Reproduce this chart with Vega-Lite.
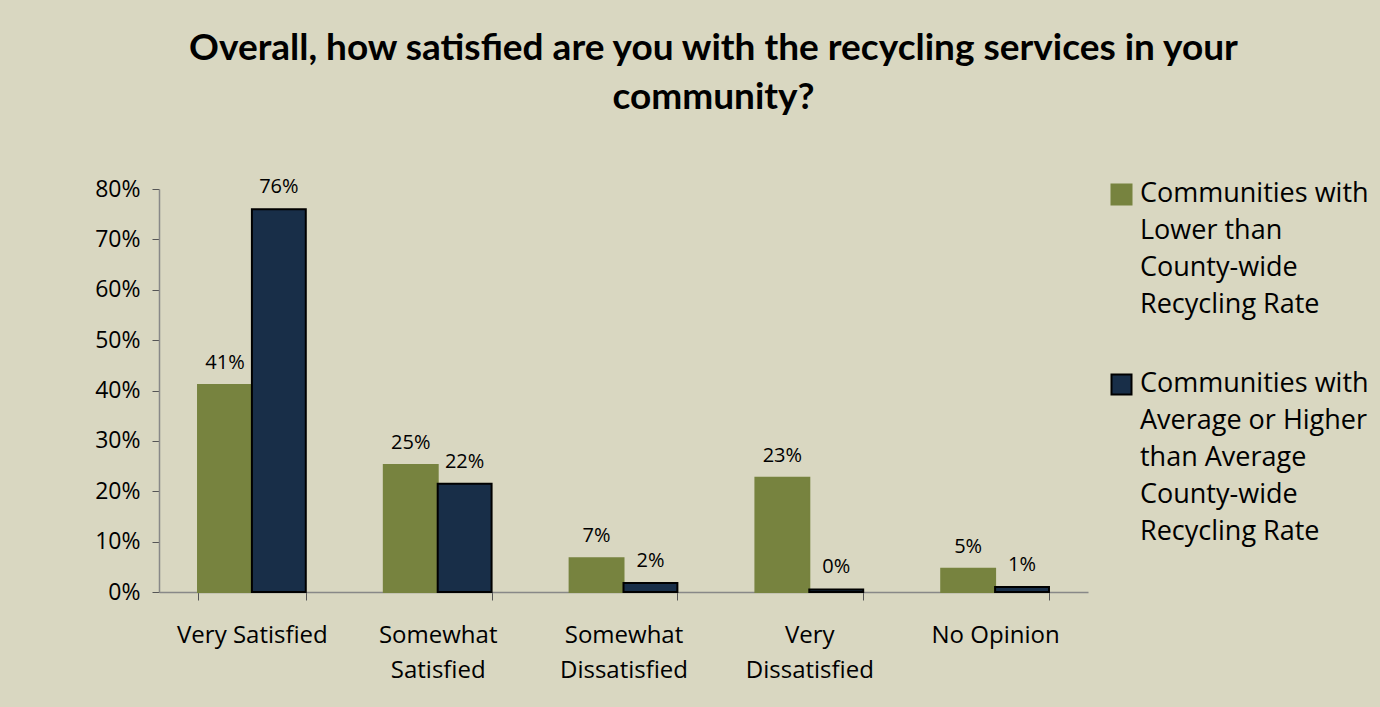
{
  "$schema": "https://vega.github.io/schema/vega-lite/v6.json",
  "width": 929,
  "height": 403,
  "autosize": {"type": "none"},
  "padding": {"left": 159, "top": 189, "right": 292, "bottom": 115},
  "background": "#D9D7C1",
  "title": {
    "text": ["Overall, how satisfied are you with the recycling services in your", "community?"],
    "fontSize": 37,
    "fontWeight": "bold",
    "font": "Lato",
    "color": "#000000",
    "lineHeight": 49,
    "anchor": "middle",
    "frame": "group",
    "dx": 90,
    "offset": 60
  },
  "config": {
    "view": {"stroke": null},
    "font": "Open Sans"
  },
  "data": {
    "values": [
      {"category": "Very Satisfied", "group": "Lower", "value": 41.1, "label": "41%"},
      {"category": "Very Satisfied", "group": "Higher", "value": 76.0, "label": "76%"},
      {"category": "Somewhat Satisfied", "group": "Lower", "value": 25.2, "label": "25%"},
      {"category": "Somewhat Satisfied", "group": "Higher", "value": 21.5, "label": "22%"},
      {"category": "Somewhat Dissatisfied", "group": "Lower", "value": 6.7, "label": "7%"},
      {"category": "Somewhat Dissatisfied", "group": "Higher", "value": 1.8, "label": "2%"},
      {"category": "Very Dissatisfied", "group": "Lower", "value": 22.7, "label": "23%"},
      {"category": "Very Dissatisfied", "group": "Higher", "value": 0.5, "label": "0%"},
      {"category": "No Opinion", "group": "Lower", "value": 4.6, "label": "5%"},
      {"category": "No Opinion", "group": "Higher", "value": 1.0, "label": "1%"}
    ]
  },
  "encoding": {
    "x": {
      "field": "category",
      "type": "nominal",
      "sort": null,
      "scale": {"paddingInner": 0.42, "paddingOuter": 0.21},
      "axis": {
        "title": null,
        "labelAngle": 0,
        "labelFontSize": 24,
        "labelColor": "#000000",
        "labelPadding": 23,
        "labelLineHeight": 35,
        "labelExpr": "datum.label == 'Very Satisfied' || datum.label == 'No Opinion' ? datum.label : split(datum.label, ' ')",
        "tickBand": "extent",
        "tickSize": 8,
        "tickColor": "#555555",
        "domainColor": "#888888",
        "domainWidth": 1.5,
        "labelLimit": 300
      }
    },
    "xOffset": {"field": "group", "type": "nominal", "sort": ["Lower", "Higher"]},
    "y": {
      "field": "value",
      "type": "quantitative",
      "scale": {"domain": [0, 80], "nice": false},
      "axis": {
        "title": null,
        "values": [0, 10, 20, 30, 40, 50, 60, 70, 80],
        "labelExpr": "datum.value + '%'",
        "labelFontSize": 23,
        "labelColor": "#000000",
        "labelPadding": 12,
        "grid": false,
        "tickSize": 7,
        "tickColor": "#555555",
        "domainColor": "#888888",
        "domainWidth": 1.5
      }
    }
  },
  "layer": [
    {
      "mark": {"type": "bar"},
      "encoding": {
        "color": {
          "field": "group",
          "type": "nominal",
          "sort": ["Lower", "Higher"],
          "scale": {"domain": ["Lower", "Higher"], "range": ["#77833F", "#182E48"]},
          "legend": {
            "orient": "none",
            "legendX": 949,
            "legendY": -8,
            "title": null,
            "symbolType": "square",
            "symbolSize": 400,
            "labelFontSize": 27,
            "labelColor": "#000000",
            "labelOffset": 5,
            "labelLimit": 400,
            "labelBaseline": "top",
            "rowPadding": 51,
            "labelExpr": "datum.value == 'Lower' ? ['Communities with', 'Lower than', 'County-wide', 'Recycling Rate'] : ['Communities with', 'Average or Higher', 'than Average', 'County-wide', 'Recycling Rate']",
            "encode": {
              "labels": {"update": {"lineHeight": {"value": 37}, "dy": {"value": -14}}},
              "symbols": {"update": {"stroke": {"signal": "datum.value == 'Lower' ? '#77833F' : '#000000'"}, "strokeWidth": {"value": 2}}}
            }
          }
        },
        "stroke": {
          "field": "group",
          "type": "nominal",
          "scale": {"domain": ["Lower", "Higher"], "range": ["#77833F", "#000000"]},
          "legend": null
        },
        "strokeWidth": {"value": 2}
      }
    },
    {
      "mark": {"type": "text", "baseline": "bottom", "dy": -12, "fontSize": 20, "color": "#000000"},
      "encoding": {
        "text": {"field": "label"}
      }
    }
  ]
}
